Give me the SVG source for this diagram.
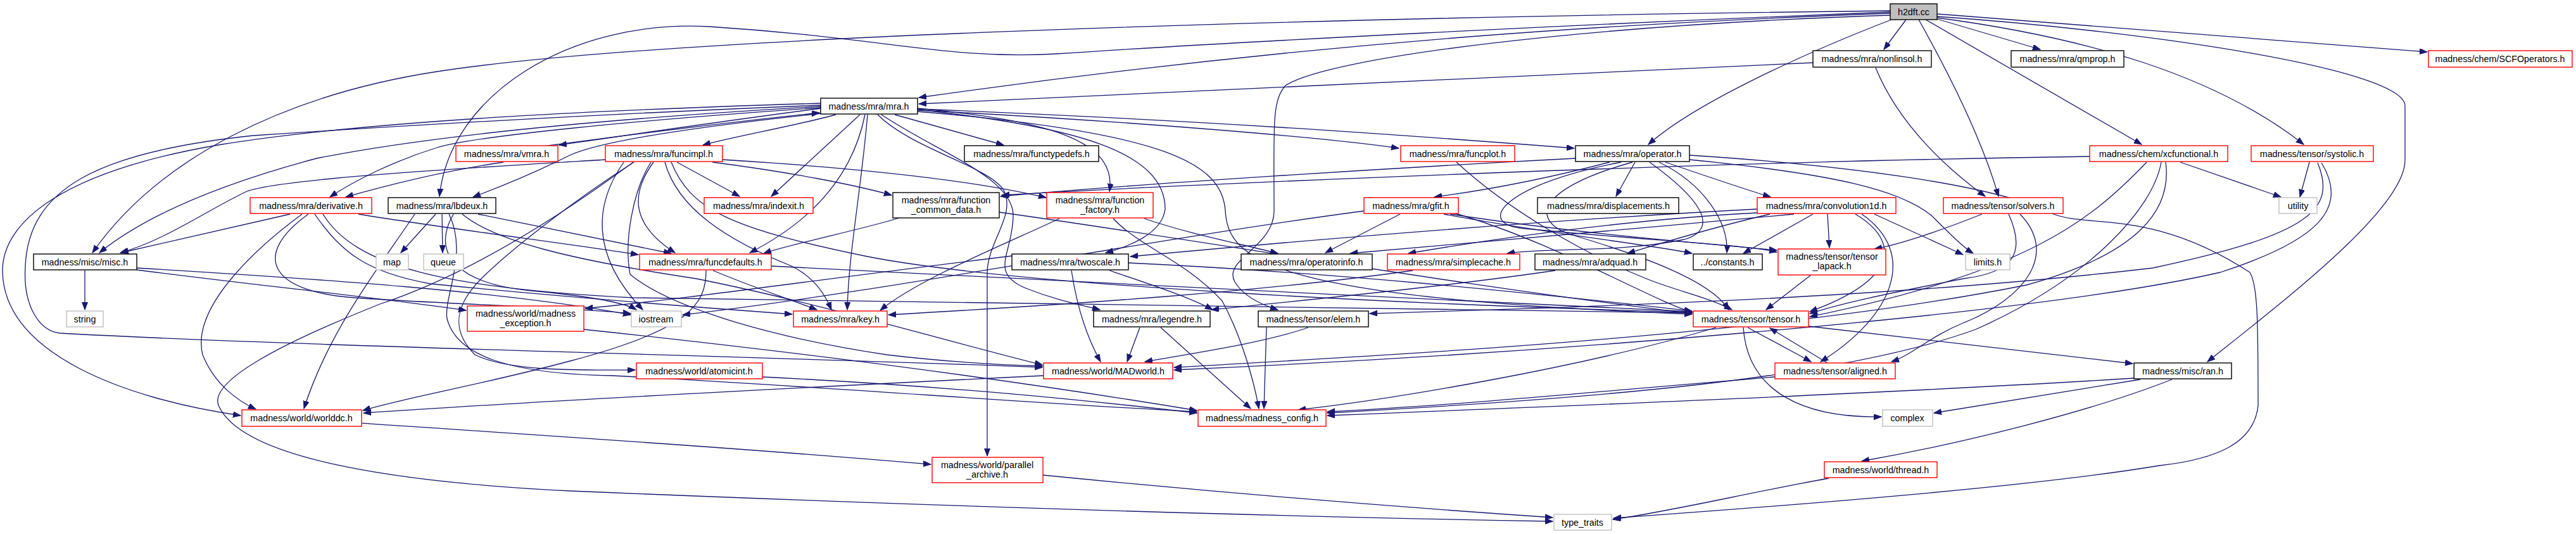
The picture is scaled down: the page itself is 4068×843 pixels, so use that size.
<svg xmlns="http://www.w3.org/2000/svg" width="4068" height="843" viewBox="0 0 4068 843">
<style>
.e{fill:none;stroke:#191970;stroke-width:1.3;marker-end:url(#ah)}
rect{fill:#fff;stroke-width:1.4}
.b rect{stroke:#000}
.r rect{stroke:#ff0000}
.g rect{stroke:#bfbfbf}
.root rect{fill:#bfbfbf;stroke:#000}
text{font-family:"Liberation Sans",Arial,sans-serif;font-size:14.3px;fill:#000;text-anchor:middle}
</style>
<defs>
<marker id="ah" markerUnits="userSpaceOnUse" markerWidth="13" markerHeight="10" refX="12" refY="4.5" orient="auto"><path d="M0,0 L12,4.5 L0,9 z" fill="#191970" stroke="#191970" stroke-width="1"/></marker>
</defs>
<rect x="0" y="0" width="4068" height="843" style="fill:#fff;stroke:none"/>
<g id="edges">
<path class="e" d="M2985,21 C2600,35 2100,62 1451,154"/>
<path class="e" d="M2985,17 C2300,25 1100,50 690,113 C450,150 250,250 146,399"/>
<path class="e" d="M2985,19 C2500,38 1950,66 1668,85 C1500,95 1400,60 1120,42 C900,30 710,150 694,310"/>
<path class="e" d="M2985,24 C2500,40 2100,90 2030,135 C2008,160 2012,200 2012,333 C2012,390 1930,410 1950,445 C1965,470 1995,482 2018,489"/>
<path class="e" d="M2987,31 C2860,80 2680,160 2603,228"/>
<path class="e" d="M3010,31 L2975,78"/>
<path class="e" d="M3030,31 C3080,120 3130,220 3156,310"/>
<path class="e" d="M3041,31 L3382,228"/>
<path class="e" d="M3059,30 L3222,78"/>
<path class="e" d="M3059,22 L3833,82"/>
<path class="e" d="M3059,26 C3400,50 3798,110 3798,167 L3798,253 C3798,330 3600,480 3486,571"/>
<path class="e" d="M3059,28 C3300,60 3500,120 3638,228"/>
<path class="e" d="M2863,99 C2500,115 2000,137 1451,164"/>
<path class="e" d="M2962,107 C3000,200 3080,270 3135,310"/>
<path class="e" d="M1297,171 C1150,190 1000,212 883,229"/>
<path class="e" d="M865,230 C1000,212 1150,193 1294,178"/>
<path class="e" d="M1320,181 C1250,200 1160,215 1110,229"/>
<path class="e" d="M1296,170 C1000,190 750,215 690,233 C620,255 560,285 521,311"/>
<path class="e" d="M1296,168 C1000,185 700,210 500,250 C350,290 230,340 157,399"/>
<path class="e" d="M1296,163 C1000,172 600,188 350,228 C100,270 2,350 4,430 C8,560 200,630 380,656"/>
<path class="e" d="M1298,179 C1100,200 950,222 900,245 C840,275 790,295 747,311"/>
<path class="e" d="M1358,181 L1218,310"/>
<path class="e" d="M1366,181 C1350,260 1300,340 1184,399"/>
<path class="e" d="M1370,181 C1360,300 1340,400 1338,489"/>
<path class="e" d="M1413,181 L1585,229"/>
<path class="e" d="M1449,171 C1650,190 1765,220 1752,302"/>
<path class="e" d="M1449,173 C1700,200 1840,240 1840,330 C1835,370 1780,390 1746,399"/>
<path class="e" d="M1392,181 C1480,240 1600,280 1600,340 C1600,400 1560,430 1620,455 C1670,475 1710,482 1737,489"/>
<path class="e" d="M1386,181 C1440,235 1560,262 1585,300 C1605,340 1560,380 1559,430 L1559,720"/>
<path class="e" d="M1449,174 C1800,192 2100,218 2209,234"/>
<path class="e" d="M1449,172 C1900,190 2200,212 2486,234"/>
<path class="e" d="M1296,166 C1000,178 700,194 400,214 C150,240 45,300 40,420 C36,480 60,522 95,526 C500,548 1200,562 1646,580"/>
<path class="e" d="M1449,176 C1850,210 1930,260 1935,333 C1940,410 2000,470 2672,496"/>
<path class="e" d="M795,256 C700,270 620,290 546,311"/>
<path class="e" d="M956,252 C800,262 450,280 390,302 C330,330 260,380 190,399"/>
<path class="e" d="M1069,256 L1168,310"/>
<path class="e" d="M1032,256 C1000,300 990,350 1066,399"/>
<path class="e" d="M1141,252 C1400,268 1560,290 1652,312"/>
<path class="e" d="M1125,256 C1250,272 1350,292 1408,308"/>
<path class="e" d="M1050,256 C1070,330 1150,380 1250,420 C1290,440 1305,470 1313,489"/>
<path class="e" d="M1028,256 C1000,300 985,380 995,433 C1050,480 1200,530 1400,560 C1500,572 1580,576 1646,578"/>
<path class="e" d="M1060,256 C1090,330 1150,360 1370,405 C1600,450 2200,480 2672,493"/>
<path class="e" d="M1000,256 C900,330 750,430 600,480 C450,540 330,600 345,640 C380,720 600,760 900,775 C1500,800 2000,815 2452,823"/>
<path class="e" d="M985,256 C940,320 930,400 1015,489"/>
<path class="e" d="M1001,256 C900,320 800,400 760,440 C720,480 710,520 750,560 C800,585 900,585 1003,584"/>
<path class="e" d="M458,338 L191,399"/>
<path class="e" d="M566,338 C700,360 900,385 1008,402"/>
<path class="e" d="M477,338 C420,380 300,480 320,560 C340,610 380,635 404,646"/>
<path class="e" d="M497,338 C540,400 580,430 680,448 C900,470 1100,485 1251,496"/>
<path class="e" d="M487,338 C400,400 420,460 560,470 C700,480 900,485 996,495"/>
<path class="e" d="M510,338 C560,420 700,455 1000,470 C1600,480 2200,488 2672,494"/>
<path class="e" d="M688,338 L633,399"/>
<path class="e" d="M698,338 L699,399"/>
<path class="e" d="M755,338 L1060,400"/>
<path class="e" d="M655,338 C600,420 520,520 480,645"/>
<path class="e" d="M716,338 C680,400 720,450 850,460 C950,470 990,480 1005,489"/>
<path class="e" d="M730,338 C780,380 900,410 1100,440 C1300,480 1500,540 1646,576"/>
<path class="e" d="M709,338 C740,400 700,470 706,503 C720,560 800,590 966,593 C1300,610 1600,635 1890,650"/>
<path class="e" d="M134,427 L134,489"/>
<path class="e" d="M216,426 C400,450 600,470 736,490"/>
<path class="e" d="M216,423 C500,440 800,460 996,497"/>
<path class="e" d="M1126,427 C1180,450 1240,470 1290,489"/>
<path class="e" d="M1115,427 C1115,480 1090,520 900,570 C750,610 650,625 573,648"/>
<path class="e" d="M1218,420 C1600,440 2200,470 2672,492"/>
<path class="e" d="M1420,344 C1370,360 1250,385 1206,400"/>
<path class="e" d="M1578,335 C1900,380 2300,450 2672,495"/>
<path class="e" d="M1673,345 C1600,380 1450,440 1390,490"/>
<path class="e" d="M1807,345 C1880,370 1960,385 2018,400"/>
<path class="e" d="M1758,345 C1800,390 1870,410 1930,475 C1960,530 1980,600 1988,645"/>
<path class="e" d="M1752,427 C1820,450 1880,470 1915,489"/>
<path class="e" d="M1692,427 C1700,480 1715,530 1738,571"/>
<path class="e" d="M1782,415 C2100,430 2400,460 2672,491"/>
<path class="e" d="M1598,404 C1300,440 1100,470 924,487"/>
<path class="e" d="M1800,517 L1780,571"/>
<path class="e" d="M1833,517 L1975,645"/>
<path class="e" d="M2066,517 C2000,540 1900,555 1808,571"/>
<path class="e" d="M2000,517 L1996,645"/>
<path class="e" d="M1648,593 C1300,610 900,630 574,652"/>
<path class="e" d="M571,668 C900,690 1200,710 1470,733"/>
<path class="e" d="M1647,750 C1900,775 2200,800 2452,817"/>
<path class="e" d="M922,520 C1300,560 1600,600 1890,648"/>
<path class="e" d="M1204,595 C1500,610 1700,630 1890,652"/>
<path class="e" d="M2488,250 C2200,265 1800,290 1580,310"/>
<path class="e" d="M2542,256 C2450,280 2350,300 2265,311"/>
<path class="e" d="M2582,256 L2552,310"/>
<path class="e" d="M2630,256 C2700,280 2760,300 2796,311"/>
<path class="e" d="M2605,256 C2680,310 2720,360 2660,378 C2550,400 2450,390 2380,400"/>
<path class="e" d="M2620,256 C2690,290 2730,350 2727,399"/>
<path class="e" d="M2668,252 C2900,275 3000,300 3050,340 C3080,370 3100,390 3116,400"/>
<path class="e" d="M2668,245 C2900,260 3150,290 3243,338 C3300,360 3400,330 3553,430 C3565,450 3566,500 3566,640 C3560,700 3500,725 3410,735 C3200,770 2800,800 2548,818"/>
<path class="e" d="M2560,256 C2380,290 2330,350 2400,360 C2600,380 2750,385 2806,398"/>
<path class="e" d="M2578,256 C2420,300 2420,350 2480,370 C2580,400 2700,440 2730,489"/>
<path class="e" d="M2211,338 L2093,399"/>
<path class="e" d="M2280,338 C2450,370 2600,385 2672,400"/>
<path class="e" d="M2290,338 C2500,370 2700,385 2806,395"/>
<path class="e" d="M2295,336 C2450,380 2600,470 2672,493"/>
<path class="e" d="M2154,333 C1800,380 1400,460 1078,497"/>
<path class="e" d="M2300,256 C2380,330 2500,400 2600,440 C2650,460 2700,470 2735,489"/>
<path class="e" d="M2833,338 C2600,360 2300,385 2132,400"/>
<path class="e" d="M2795,338 C2700,360 2620,385 2570,400"/>
<path class="e" d="M2863,338 L2753,400"/>
<path class="e" d="M2886,338 L2889,391"/>
<path class="e" d="M2960,338 L3100,402"/>
<path class="e" d="M2930,338 C3000,380 3000,440 2858,492"/>
<path class="e" d="M2940,338 C3030,400 2990,500 2875,571"/>
<path class="e" d="M2775,336 C2600,345 2400,370 2224,400"/>
<path class="e" d="M2775,330 C2400,350 2000,385 1785,405"/>
<path class="e" d="M3130,338 C3050,370 2990,388 2960,393"/>
<path class="e" d="M3172,338 C3200,400 3180,430 3100,440 C3000,460 2920,475 2858,495"/>
<path class="e" d="M3190,338 C3250,400 3200,470 3100,510 C3050,530 3020,560 2987,571"/>
<path class="e" d="M3300,247 C2700,255 1900,290 1582,308"/>
<path class="e" d="M3443,256 L3602,311"/>
<path class="e" d="M3390,256 C3300,350 3200,430 2858,500"/>
<path class="e" d="M3413,256 C3400,330 3300,440 3120,520 C2900,600 2500,630 2096,652"/>
<path class="e" d="M3420,256 C3430,330 3380,400 3200,450 C2800,530 2200,560 1854,580"/>
<path class="e" d="M3647,256 L3632,311"/>
<path class="e" d="M3660,257 C3690,330 3650,370 3400,423 C3000,470 2500,485 2163,495"/>
<path class="e" d="M3666,257 C3710,330 3660,380 3506,430 C3200,500 2400,560 1854,584"/>
<path class="e" d="M2860,434 L2789,489"/>
<path class="e" d="M2760,517 L2860,571"/>
<path class="e" d="M2886,573 L2795,518"/>
<path class="e" d="M2803,595 C2500,620 2300,640 2096,650"/>
<path class="e" d="M2753,517 C2760,620 2850,660 2971,658"/>
<path class="e" d="M2856,515 L3368,574"/>
<path class="e" d="M2710,517 C2500,580 2200,630 2050,647"/>
<path class="e" d="M3380,599 L3054,652"/>
<path class="e" d="M3430,599 C3300,650 3100,700 2940,728"/>
<path class="e" d="M3370,597 C3000,620 2500,640 2096,656"/>
<path class="e" d="M2888,755 C2750,780 2650,805 2547,820"/>
<path class="e" d="M2456,427 C2300,450 2100,470 1913,489"/>
<path class="e" d="M2231,427 C2000,460 1700,480 1403,497"/>
</g>
<g id="n_root" class="root"><rect x="2985" y="6" width="74" height="25"/><text x="3022" y="24">h2dft.cc</text></g>
<g id="n_nonlinsol" class="b"><rect x="2863" y="80" width="187" height="26"/><text x="2956" y="98">madness/mra/nonlinsol.h</text></g>
<g id="n_qmprop" class="b"><rect x="3176" y="80" width="178" height="26"/><text x="3265" y="98">madness/mra/qmprop.h</text></g>
<g id="n_scf" class="r"><rect x="3835" y="80" width="227" height="26"/><text x="3948" y="98">madness/chem/SCFOperators.h</text></g>
<g id="n_mra" class="b"><rect x="1296" y="155" width="153" height="25"/><text x="1372" y="173">madness/mra/mra.h</text></g>
<g id="n_vmra" class="r"><rect x="720" y="230" width="161" height="25"/><text x="800" y="248">madness/mra/vmra.h</text></g>
<g id="n_funcimpl" class="r"><rect x="956" y="230" width="185" height="25"/><text x="1048" y="248">madness/mra/funcimpl.h</text></g>
<g id="n_functypedefs" class="b"><rect x="1523" y="230" width="212" height="25"/><text x="1629" y="248">madness/mra/functypedefs.h</text></g>
<g id="n_funcplot" class="r"><rect x="2212" y="230" width="180" height="25"/><text x="2302" y="248">madness/mra/funcplot.h</text></g>
<g id="n_operator" class="b"><rect x="2488" y="230" width="180" height="25"/><text x="2578" y="248">madness/mra/operator.h</text></g>
<g id="n_xcfunctional" class="r"><rect x="3300" y="230" width="218" height="25"/><text x="3409" y="248">madness/chem/xcfunctional.h</text></g>
<g id="n_systolic" class="r"><rect x="3555" y="230" width="193" height="25"/><text x="3651" y="248">madness/tensor/systolic.h</text></g>
<g id="n_derivative" class="r"><rect x="395" y="312" width="192" height="25"/><text x="491" y="330">madness/mra/derivative.h</text></g>
<g id="n_lbdeux" class="b"><rect x="613" y="312" width="170" height="25"/><text x="698" y="330">madness/mra/lbdeux.h</text></g>
<g id="n_indexit" class="r"><rect x="1112" y="312" width="172" height="25"/><text x="1198" y="330">madness/mra/indexit.h</text></g>
<g id="n_fcd" class="b"><rect x="1410" y="304" width="168" height="40"/><text x="1494" y="321">madness/mra/function</text><text x="1494" y="336">_common_data.h</text></g>
<g id="n_ffac" class="r"><rect x="1653" y="304" width="168" height="40"/><text x="1737" y="321">madness/mra/function</text><text x="1737" y="336">_factory.h</text></g>
<g id="n_gfit" class="r"><rect x="2154" y="312" width="149" height="25"/><text x="2228" y="330">madness/mra/gfit.h</text></g>
<g id="n_displacements" class="b"><rect x="2428" y="312" width="223" height="25"/><text x="2540" y="330">madness/mra/displacements.h</text></g>
<g id="n_conv1d" class="r"><rect x="2775" y="312" width="219" height="25"/><text x="2884" y="330">madness/mra/convolution1d.h</text></g>
<g id="n_solvers" class="r"><rect x="3069" y="312" width="189" height="25"/><text x="3163" y="330">madness/tensor/solvers.h</text></g>
<g id="n_utility" class="g"><rect x="3599" y="312" width="60" height="25"/><text x="3629" y="330">utility</text></g>
<g id="n_misc" class="b"><rect x="53" y="401" width="163" height="25"/><text x="134" y="419">madness/misc/misc.h</text></g>
<g id="n_map" class="g"><rect x="594" y="401" width="51" height="25"/><text x="619" y="419">map</text></g>
<g id="n_queue" class="g"><rect x="669" y="401" width="63" height="25"/><text x="700" y="419">queue</text></g>
<g id="n_funcdefaults" class="r"><rect x="1010" y="401" width="208" height="25"/><text x="1114" y="419">madness/mra/funcdefaults.h</text></g>
<g id="n_twoscale" class="b"><rect x="1598" y="401" width="184" height="25"/><text x="1690" y="419">madness/mra/twoscale.h</text></g>
<g id="n_operatorinfo" class="b"><rect x="1960" y="401" width="207" height="25"/><text x="2063" y="419">madness/mra/operatorinfo.h</text></g>
<g id="n_simplecache" class="r"><rect x="2191" y="401" width="209" height="25"/><text x="2295" y="419">madness/mra/simplecache.h</text></g>
<g id="n_adquad" class="b"><rect x="2424" y="401" width="175" height="25"/><text x="2511" y="419">madness/mra/adquad.h</text></g>
<g id="n_constants" class="b"><rect x="2674" y="401" width="109" height="25"/><text x="2728" y="419">../constants.h</text></g>
<g id="n_lapack" class="r"><rect x="2808" y="393" width="170" height="41"/><text x="2893" y="410">madness/tensor/tensor</text><text x="2893" y="425">_lapack.h</text></g>
<g id="n_limits" class="g"><rect x="3104" y="401" width="70" height="25"/><text x="3139" y="419">limits.h</text></g>
<g id="n_string" class="g"><rect x="105" y="491" width="58" height="25"/><text x="134" y="509">string</text></g>
<g id="n_mexc" class="r"><rect x="738" y="483" width="184" height="40"/><text x="830" y="500">madness/world/madness</text><text x="830" y="515">_exception.h</text></g>
<g id="n_iostream" class="g"><rect x="997" y="491" width="79" height="25"/><text x="1036" y="509">iostream</text></g>
<g id="n_key" class="r"><rect x="1253" y="491" width="148" height="25"/><text x="1327" y="509">madness/mra/key.h</text></g>
<g id="n_legendre" class="b"><rect x="1727" y="491" width="184" height="25"/><text x="1819" y="509">madness/mra/legendre.h</text></g>
<g id="n_elem" class="b"><rect x="1987" y="491" width="174" height="25"/><text x="2074" y="509">madness/tensor/elem.h</text></g>
<g id="n_tensor" class="r"><rect x="2674" y="491" width="182" height="25"/><text x="2765" y="509">madness/tensor/tensor.h</text></g>
<g id="n_atomicint" class="r"><rect x="1005" y="573" width="199" height="25"/><text x="1104" y="591">madness/world/atomicint.h</text></g>
<g id="n_madworld" class="r"><rect x="1648" y="573" width="204" height="25"/><text x="1750" y="591">madness/world/MADworld.h</text></g>
<g id="n_aligned" class="r"><rect x="2803" y="573" width="190" height="25"/><text x="2898" y="591">madness/tensor/aligned.h</text></g>
<g id="n_ran" class="b"><rect x="3370" y="573" width="154" height="25"/><text x="3447" y="591">madness/misc/ran.h</text></g>
<g id="n_worlddc" class="r"><rect x="382" y="647" width="189" height="26"/><text x="476" y="665">madness/world/worlddc.h</text></g>
<g id="n_config" class="r"><rect x="1892" y="647" width="202" height="26"/><text x="1993" y="665">madness/madness_config.h</text></g>
<g id="n_complex" class="g"><rect x="2973" y="647" width="79" height="26"/><text x="3012" y="665">complex</text></g>
<g id="n_parallel" class="r"><rect x="1472" y="722" width="175" height="40"/><text x="1559" y="739">madness/world/parallel</text><text x="1559" y="754">_archive.h</text></g>
<g id="n_thread" class="r"><rect x="2881" y="729" width="178" height="25"/><text x="2970" y="747">madness/world/thread.h</text></g>
<g id="n_type_traits" class="g"><rect x="2454" y="812" width="91" height="25"/><text x="2499" y="830">type_traits</text></g>
</svg>
